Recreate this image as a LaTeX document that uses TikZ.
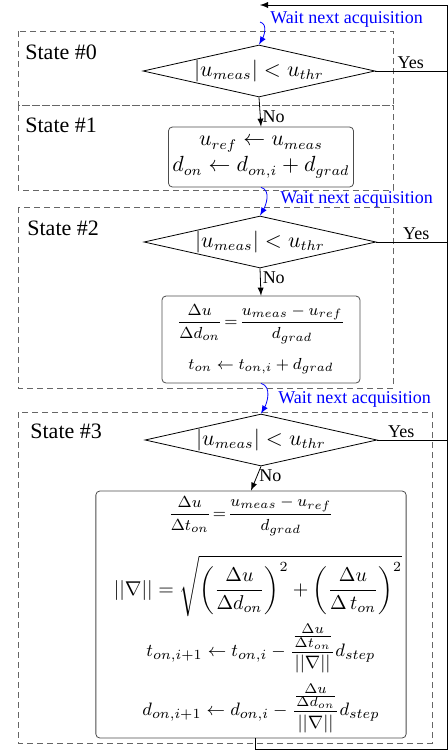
\documentclass[tikz,border=0pt]{standalone}
\usepackage[no-math]{fontspec}
\setmainfont{Liberation Serif}
\usepackage{amsmath}
\usetikzlibrary{shapes.geometric}

\begin{document}
\begin{tikzpicture}[x=.5pt,y=-.5pt,line width=.4pt,>=latex,
 frame/.style={densely dashed,black!60,line width=.45pt},
 cond/.style={draw,diamond,aspect=4.4,inner sep=0pt,minimum width=116pt,minimum height=26pt,font=\fontsize{10.5}{12}\selectfont},
 proc/.style={draw=black!70,rounded corners=2pt,align=center,inner sep=2pt,font=\fontsize{10.5}{12}\selectfont},
 lbl/.style={font=\fontsize{9}{10}\selectfont,inner sep=1pt},
 wait/.style={lbl,text=blue,anchor=west,inner sep=0pt},
 st/.style={font=\fontsize{11}{13}\selectfont,anchor=west,inner sep=0pt}]
\useasboundingbox (0,0) rectangle (448,751);
% state frames
\foreach \n/\t/\b/\r/\x/\y in {0/31/105/393/25/52,1/105/190/393/25/125,2/207/388/393/27/228,3/412/743/432/30/431}{
 \draw[frame] (18,\t) rectangle (\r,\b);
 \node[st] (s\n) at (\x,\y) {State \#\n};
}
\coordinate (in0) at (260,5);\coordinate (rt) at (447.5,5);\coordinate (bt) at (447.5,749);
\coordinate (w0) at (260,22);
% tests
\node[cond] (c0) at (259,71) {$\left|u_{meas}\right| < u_{thr}$};
\node[cond] (c2) at (260,242) {$\left|u_{meas}\right| < u_{thr}$};
\node[cond] (c3) at (261,440) {$\left|u_{meas}\right| < u_{thr}$};
% updates
\node[proc,minimum width=91pt,minimum height=30pt] (p1) at (261,157) {$u_{ref}\leftarrow u_{meas}$\\[1pt]$d_{on}\leftarrow d_{on,i}+d_{grad}$};
\node[proc,minimum width=99pt,minimum height=43.5pt,font=\fontsize{8.5}{10}\selectfont] (p2) at (261,339.5) {%
 {\fontsize{8}{10}\selectfont$\displaystyle\frac{\Delta u}{\Delta d_{on}}\!=\!\frac{u_{meas}-u_{ref}}{d_{grad}}$}\\[6pt]
 $t_{on}\leftarrow t_{on,i}+d_{grad}$};
\node[proc,minimum width=153pt,minimum height=123.5pt,font=\fontsize{9.5}{11}\selectfont] (p3) at (251,614.5) {%
 {\fontsize{8}{10}\selectfont$\displaystyle\frac{\Delta u}{\Delta t_{on}}\!=\!\frac{u_{meas}-u_{ref}}{d_{grad}}$}\\[9pt]
 \hspace*{7pt}{\fontsize{10}{12}\selectfont$\displaystyle||\nabla||=\sqrt{\left(\frac{\Delta u}{\Delta d_{on}}\right)^2+\left(\frac{\Delta u}{\Delta\,t_{on}}\right)^2}$}\\[3pt]
 \hspace*{10pt}$\displaystyle t_{on,i+1}\leftarrow t_{on,i}-\frac{\frac{\Delta u}{\Delta t_{on}}}{||\nabla||}d_{step}$\\[4pt]
 \hspace*{10pt}$\displaystyle d_{on,i+1}\leftarrow d_{on,i}-\frac{\frac{\Delta u}{\Delta d_{on}}}{||\nabla||}d_{step}$};
% flow
\draw[->] (c0.south) -- (p1.north) node[lbl,right,pos=.65] {No};
\draw[->] (c2.south) -- (p2.north) node[lbl,right,pos=.35] {No};
\draw[->] (c3.south) -- (p3.north) node[lbl,right,pos=.4] {No};
\draw (c0.east) -- (c0.east -| rt) node[lbl,above,pos=.49] {Yes};
\draw (c2.east) -- (c2.east -| rt) node[lbl,above,pos=.56] {Yes};
\draw (c3.east) -- (c3.east -| rt) node[lbl,above,pos=.34] {Yes};
\draw[->] ([xshift=2pt]p3.south) |- (bt) -- (rt) -- (in0);
% waiting
\draw[->,blue] (w0) to[out=-15,in=60] (c0.north);
\draw[->,blue] (p1.south) to[out=-15,in=60] (c2.north);
\draw[->,blue] (p2.south) to[out=-15,in=60] (c3.north);
\node[wait] (a0) at (270,19) {Wait next acquisition};
\node[wait] (a1) at (280,199) {Wait next acquisition};
\node[wait] (a2) at (278,399) {Wait next acquisition};
\end{tikzpicture}
\end{document}
